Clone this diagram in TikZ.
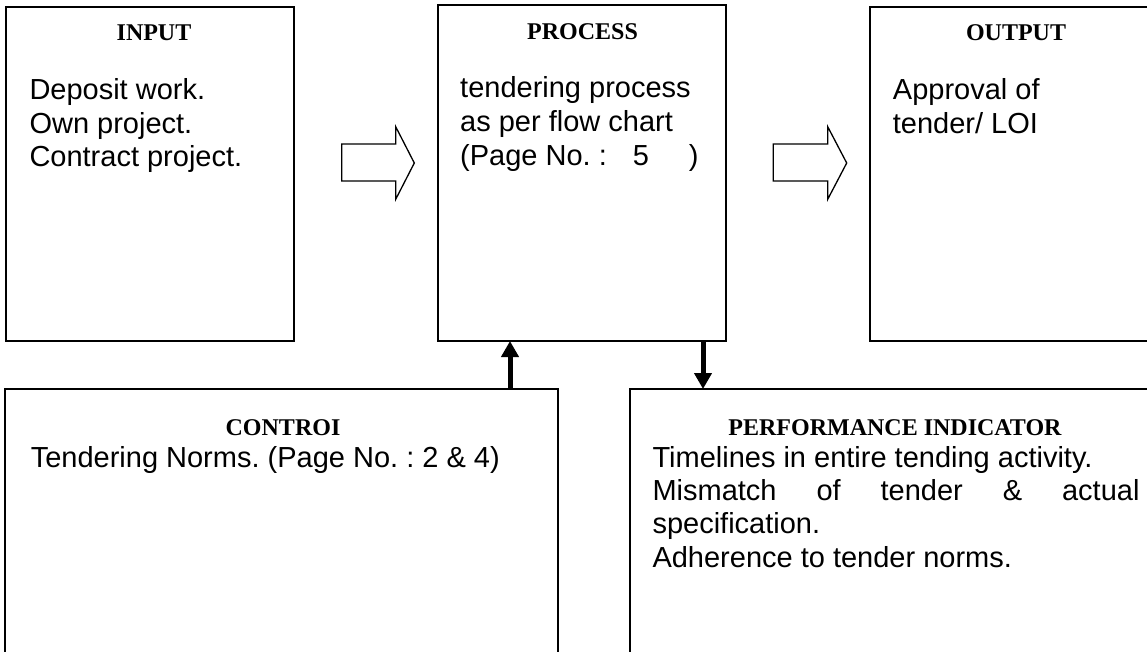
\documentclass[tikz,border=0pt]{standalone}
\usepackage{fontspec}
\setmainfont{Liberation Sans}
\newfontfamily\headfont{Liberation Serif}
\usetikzlibrary{arrows.meta}
\frenchspacing
\begin{document}
\begin{tikzpicture}[x=1pt,y=-1pt,
  box/.style={draw, line width=1.4pt, rectangle, outer sep=0pt, inner sep=0pt, anchor=north west},
  head/.style={font={\headfont\bfseries\fontsize{24}{28}\selectfont}, anchor=base, inner sep=0pt},
  body/.style={font={\fontsize{29}{33.5}\selectfont\frenchspacing}, anchor=base west, inner sep=0pt},
  blockarrow/.style={draw, line width=1.3pt, line join=miter},
  flowarrow/.style={line width=5pt, -{Triangle[length=16pt,width=17pt]}}]
\useasboundingbox (0,0) rectangle (1147,651);
\clip (0,0) rectangle (1147,651);

% boxes
\node[box, minimum width=288pt, minimum height=334pt] (inbox) at (6,7) {};
\node[box, minimum width=288pt, minimum height=336pt] (procbox) at (438,5) {};
\node[box, minimum width=320pt, minimum height=334pt] (outbox) at (870,7) {};
\node[box, minimum width=553pt, minimum height=330pt] (ctrlbox) at (5,389) {};
\node[box, minimum width=560pt, minimum height=330pt] (perfbox) at (630,389) {};

% headings
\node[head] (inhead) at (154,40.7) {INPUT};
\node[head] (prochead) at (582.5,39.5) {PROCESS};
\node[head] (outhead) at (1016,40.7) {OUTPUT};
\node[head] (ctrlhead) at (283,435) {CONTROI};
\node[head] (perfhead) at (895,435) {PERFORMANCE INDICATOR};

% input text
\node[body] (in1) at (29.3,99.3) {Deposit work.};
\node[body] (in2) at (29.3,133) {Own project.};
\node[body] (in3) at (29.3,166.7) {Contract project.};

% process text
\node[body] (pr1) at (460,97) {tendering process};
\node[body] (pr2) at (460,131) {as per flow chart};
\node[body] (pr3) at (460,165) {(Page No. :\hspace{26pt}5\hspace{40pt})};

% output text
\node[body] (out1) at (892.7,99.3) {Approval of};
\node[body] (out2) at (892.7,133) {tender/ LOI};

% control text
\node[body] (ct1) at (30.6,467) {Tendering Norms. (Page No. : 2 \& 4)};

% performance text
\node[body] (pf1) at (652.3,467) {Timelines in entire tending activity.};
\node[body] (pf2) at (652.3,500.4) {\makebox[487pt][s]{Mismatch\hfill of\hfill tender\hfill \&\hfill actual}};
\node[body] (pf3) at (652.3,533.7) {specification.};
\node[body] (pf4) at (652.3,567) {Adherence to tender norms.};

% block arrows
\draw[blockarrow] (341.7,144) -- (395.7,144) -- (395.7,126.7) -- (414.3,163)
  -- (395.7,199.3) -- (395.7,181) -- (341.7,181) -- cycle;
\draw[blockarrow] (773.3,144) -- (827.7,144) -- (827.7,126.7) -- (846.7,163)
  -- (827.7,199.3) -- (827.7,181) -- (773.3,181) -- cycle;

% connectors
\coordinate (upx) at (510,0);
\coordinate (downx) at (703,0);
\draw[flowarrow] (ctrlbox.north -| upx) -- (procbox.south -| upx);
\draw[flowarrow] (procbox.south -| downx) -- (perfbox.north -| downx);
\end{tikzpicture}
\end{document}
